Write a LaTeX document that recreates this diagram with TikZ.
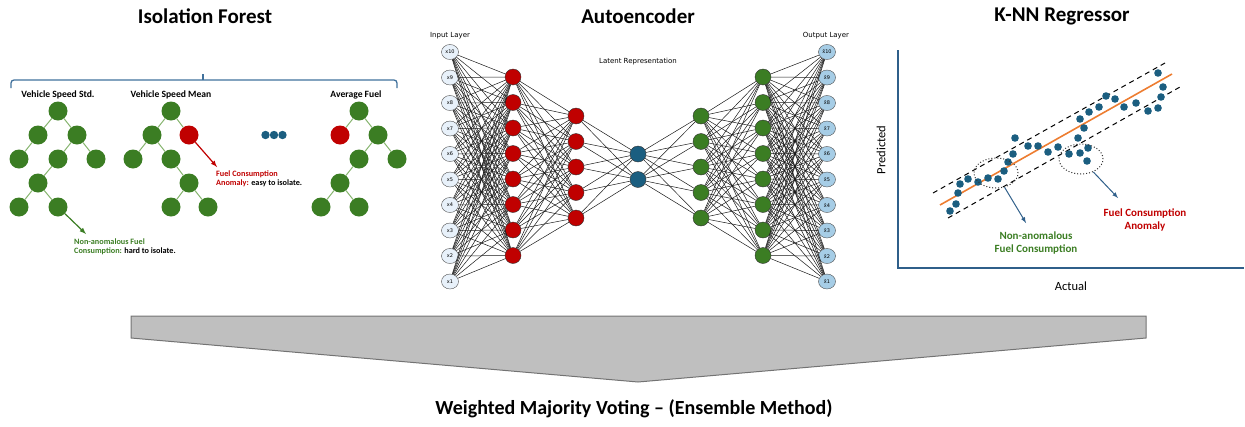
\documentclass[tikz,border=0pt]{standalone}
\usepackage{fontspec}
\setmainfont{Carlito}
\newfontfamily\nnfont{DejaVu Sans}
\usetikzlibrary{shapes.geometric}

\definecolor{treegreen}{HTML}{3B7D23}
\definecolor{edgegreen}{HTML}{86B46E}
\definecolor{anomred}{HTML}{C00000}
\definecolor{latblue}{HTML}{1B5E80}
\definecolor{axisblue}{HTML}{2F5F8A}
\definecolor{inblue}{HTML}{E8F1FA}
\definecolor{outblue}{HTML}{A6CDE6}
\definecolor{fitorange}{HTML}{ED7D31}
\definecolor{bracecol}{HTML}{41719C}
\definecolor{votegray}{HTML}{BFBFBF}

\tikzset{
    title/.style={font=\fontsize{21}{24}\selectfont\bfseries},
    treelabel/.style={font=\fontsize{9.6}{11}\selectfont\bfseries},
    treenode/.style={circle, fill=treegreen, minimum size=19pt, inner sep=0pt},
    anomnode/.style={treenode, fill=anomred},
    treeedge/.style={edgegreen, line width=1pt},
    note/.style={font=\fontsize{8.2}{9}\selectfont\bfseries, align=left, anchor=west, inner sep=0pt},
    knnnote/.style={font=\fontsize{11}{13}\selectfont\bfseries, align=center, inner sep=0pt},
    innode/.style={ellipse, draw=black!70, fill=inblue, minimum width=17pt, minimum height=15pt, inner sep=0pt, font=\nnfont\fontsize{5}{6}\selectfont},
    outnode/.style={innode, fill=outblue},
    encnode/.style={circle, draw=black!80, fill=anomred, minimum size=16pt, inner sep=0pt},
    decnode/.style={encnode, fill=treegreen},
    latnode/.style={encnode, fill=latblue},
    link/.style={black!90, line width=0.5pt},
    nnlabel/.style={font=\nnfont\fontsize{7}{8}\selectfont},
    group/.style={ellipse, draw=black!80, dotted, line width=1pt, minimum width=44pt, minimum height=30pt, inner sep=0pt},
}

\begin{document}
\begin{tikzpicture}[x=1pt, y=-1pt, >=latex]
    \useasboundingbox (0,0) rectangle (1245,426);

    % titles
    \node[title] (iftitle) at (205,16) {Isolation Forest};
    \node[title] (aetitle) at (638,16) {Autoencoder};
    \node[title] (knntitle) at (1062,16) {K-NN Regressor};

    % isolation forest
    \draw[bracecol, line width=1.3pt, rounded corners=3pt] (11,88) -- (11,80) -- (397,80) -- (397,88);
    \draw[bracecol, line width=1.3pt] (203,80) -- (203,74);

    \node[treelabel] (lab1) at (58,95) {Vehicle Speed Std.};
    \node[treelabel] (lab2) at (171,95) {Vehicle Speed Mean};
    \node[treelabel] (lab3) at (356,95) {Average Fuel};

    \foreach \n/\x/\y in {a1/58/111,a2/38/135,a3/77/135,a4/19/159,a5/58/159,a6/96/159,a7/38/183,a8/19/207,a9/58/207,
        b1/171/111,b2/152/135,b4/133/159,b5/171/159,b6/189/183,b7/171/207,b8/208/207,
        c1/359/111,c3/378/135,c4/359/159,c5/397/159,c6/340/183,c7/321/207,c8/359/207}
    {
        \node[treenode] (\n) at (\x,\y) {};
    }
    \node[anomnode] (b3) at (189,135) {};
    \node[anomnode] (c2) at (340,135) {};

    \foreach \u/\v in {a1/a2,a1/a3,a2/a4,a3/a5,a3/a6,a5/a7,a7/a8,a7/a9,
        b1/b2,b1/b3,b2/b4,b2/b5,b5/b6,b6/b7,b6/b8,
        c1/c2,c1/c3,c3/c4,c3/c5,c4/c6,c6/c7,c6/c8}
    {
        \draw[treeedge] (\u) -- (\v);
    }

    \foreach \x in {265.5,274,282.5}
    {
        \fill[latblue] (\x,135) circle (4.2pt);
    }

    \coordinate (a9tip) at (86,234);
    \coordinate (b3tip) at (217,167);
    \draw[->, treegreen, line width=1.2pt] (a9) -- (a9tip);
    \draw[->, anomred, line width=1.2pt] (b3) -- (b3tip);
    \node[note] (normnote) at (74,246.5) {\color{treegreen}Non-anomalous Fuel\\{\color{treegreen}Consumption:} hard to isolate.};
    \node[note] (anomnote) at (216,178.5) {\color{anomred}Fuel Consumption\\{\color{anomred}Anomaly:} easy to isolate.};

    % autoencoder
    \node[nnlabel] (inlab) at (450,36) {Input Layer};
    \node[nnlabel] (outlab) at (826,36) {Output Layer};
    \node[nnlabel] (latlab) at (638,62) {Latent Representation};

    \foreach \k in {1,...,10}
    {
        \node[innode] (in\k) at (450,{52+(10-\k)*25.5}) {x\k};
        \node[outnode] (out\k) at (827,{52+(10-\k)*25.5}) {x̂\k};
    }
    \foreach \k in {1,...,8}
    {
        \node[encnode] (ha\k) at (513,{77+(\k-1)*25.5}) {};
        \node[decnode] (hd\k) at (763,{77+(\k-1)*25.5}) {};
    }
    \foreach \k in {1,...,5}
    {
        \node[encnode] (hb\k) at (576,{116+(\k-1)*25.5}) {};
        \node[decnode] (hc\k) at (701,{116+(\k-1)*25.5}) {};
    }
    \node[latnode] (lt1) at (638,154) {};
    \node[latnode] (lt2) at (638,179.5) {};

    \foreach \i in {1,...,10}
        \foreach \j in {1,...,8}
        {
            \draw[link] (in\i) -- (ha\j);
            \draw[link] (hd\j) -- (out\i);
        }
    \foreach \i in {1,...,8}
        \foreach \j in {1,...,5}
        {
            \draw[link] (ha\i) -- (hb\j);
            \draw[link] (hc\j) -- (hd\i);
        }
    \foreach \i in {1,...,5}
        \foreach \j in {1,2}
        {
            \draw[link] (hb\i) -- (lt\j);
            \draw[link] (lt\j) -- (hc\i);
        }

    % k-nn regressor
    \draw[axisblue, line width=2pt] (898,50) -- (898,268) -- (1244,268);
    \node[font=\fontsize{12.5}{14}\selectfont, rotate=90] (ylab) at (881,150) {Predicted};
    \node[font=\fontsize{12.5}{14}\selectfont] (xlab) at (1071,286) {Actual};

    \draw[black, line width=1pt, dash pattern=on 5pt off 4pt] (933,193) -- (1165,63);
    \draw[black, line width=1pt, dash pattern=on 5pt off 4pt] (948,218) -- (1180,87);
    \draw[fitorange, line width=1.6pt] (940,205) -- (1172,74);

    \foreach \x/\y in {950/211,956/204,958/193,960/184,968/179,978/182,988/178,998/179,1004/171,1008/162,
        1013/154,1015/138,1028/146,1038/146,1048/152,1058/147,1069/154,1078/138,1080/153,1088/148,
        1087/161,1080/119,1084/128,1089/112,1099/107,1106/96,1115/99,1124/107,1136/103,1148/111,
        1158/108,1161/97,1163/87,1158/73}
    {
        \fill[latblue] (\x,\y) circle (3.8pt);
    }

    \node[group] (normgrp) at (996,173) {};
    \node[group] (anomgrp) at (1081,159) {};
    \coordinate (normtip) at (1026,223);
    \coordinate (anomtip) at (1118,198);
    \draw[->, axisblue, line width=1pt] (normgrp) -- (normtip);
    \draw[->, axisblue, line width=1pt] (anomgrp) -- (anomtip);
    \node[knnnote, text=treegreen] (knnnorm) at (1036,243.5) {Non-anomalous\\Fuel Consumption};
    \node[knnnote, text=anomred] (knnanom) at (1145,219.5) {Fuel Consumption\\Anomaly};

    % ensemble
    \draw[fill=votegray, draw=black!55, line width=1pt] (131,316) -- (1146,316) -- (1146,338) -- (638,382) -- (131,338) -- cycle;
    \node[font=\fontsize{20}{24}\selectfont\bfseries] (vote) at (634,409) {Weighted Majority Voting – (Ensemble Method)};
\end{tikzpicture}
\end{document}
